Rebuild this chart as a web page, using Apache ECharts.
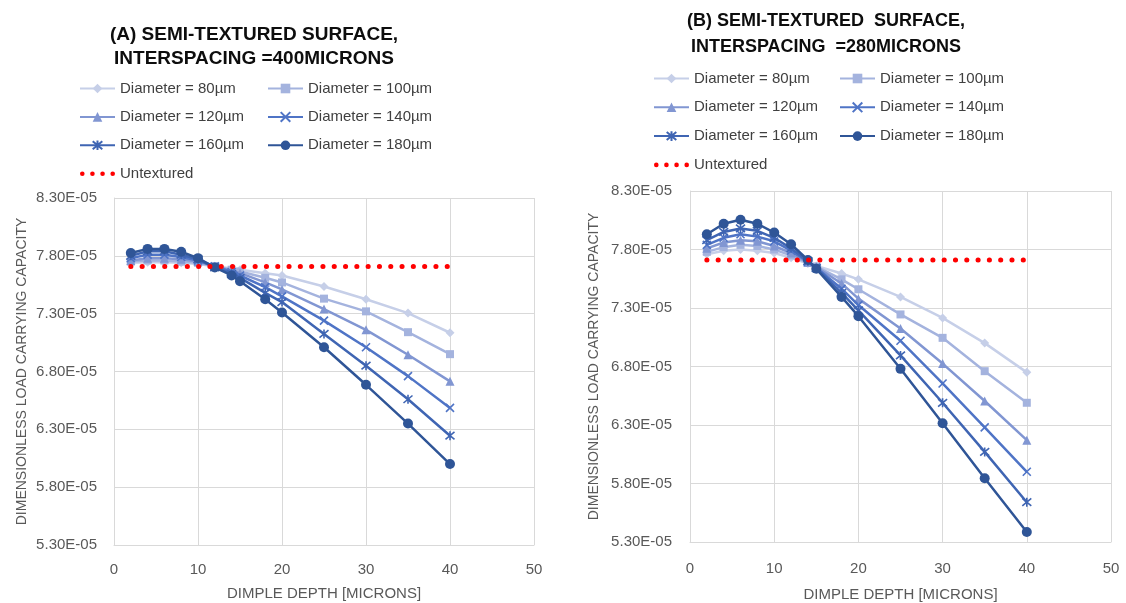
<!DOCTYPE html>
<html><head><meta charset="utf-8">
<script src="https://cdn.jsdelivr.net/npm/echarts@6/dist/echarts.min.js"></script>
<style>html,body{margin:0;padding:0;background:#fff}#c{width:1126px;height:603px}</style>
</head><body><div id="c"></div><script>
// ---- data ----
const depth = [2, 4, 6, 8, 10, 12, 14, 15, 18, 20, 25, 30, 35, 40];
const seriesNames = ['Diameter = 80µm', 'Diameter = 100µm', 'Diameter = 120µm', 'Diameter = 140µm', 'Diameter = 160µm', 'Diameter = 180µm'];
const untexturedName = 'Untextured';

// Panel A (interspacing 400 microns)
const a80  = [7.740e-5, 7.745e-5, 7.745e-5, 7.740e-5, 7.730e-5, 7.710e-5, 7.690e-5, 7.680e-5, 7.650e-5, 7.630e-5, 7.535e-5, 7.425e-5, 7.305e-5, 7.135e-5];
const a100 = [7.750e-5, 7.760e-5, 7.760e-5, 7.750e-5, 7.740e-5, 7.710e-5, 7.680e-5, 7.665e-5, 7.610e-5, 7.570e-5, 7.430e-5, 7.320e-5, 7.140e-5, 6.950e-5];
const a120 = [7.760e-5, 7.780e-5, 7.780e-5, 7.770e-5, 7.750e-5, 7.710e-5, 7.670e-5, 7.650e-5, 7.570e-5, 7.510e-5, 7.340e-5, 7.160e-5, 6.945e-5, 6.715e-5];
const a140 = [7.780e-5, 7.810e-5, 7.810e-5, 7.790e-5, 7.760e-5, 7.710e-5, 7.660e-5, 7.630e-5, 7.530e-5, 7.450e-5, 7.240e-5, 7.010e-5, 6.760e-5, 6.485e-5];
const a160 = [7.800e-5, 7.840e-5, 7.840e-5, 7.810e-5, 7.770e-5, 7.700e-5, 7.645e-5, 7.610e-5, 7.480e-5, 7.400e-5, 7.125e-5, 6.850e-5, 6.560e-5, 6.245e-5];
const a180 = [7.825e-5, 7.860e-5, 7.860e-5, 7.835e-5, 7.780e-5, 7.700e-5, 7.630e-5, 7.580e-5, 7.425e-5, 7.310e-5, 7.010e-5, 6.685e-5, 6.350e-5, 6.000e-5];
const aUntextured = [7.707e-5, 7.707e-5, 7.707e-5, 7.707e-5, 7.707e-5, 7.707e-5, 7.707e-5, 7.707e-5, 7.707e-5, 7.707e-5, 7.707e-5, 7.707e-5, 7.707e-5, 7.707e-5];

// Panel B (interspacing 280 microns)
const b80  = [7.760e-5, 7.790e-5, 7.800e-5, 7.790e-5, 7.770e-5, 7.730e-5, 7.680e-5, 7.660e-5, 7.595e-5, 7.545e-5, 7.395e-5, 7.215e-5, 7.000e-5, 6.750e-5];
const b100 = [7.780e-5, 7.820e-5, 7.840e-5, 7.830e-5, 7.800e-5, 7.750e-5, 7.685e-5, 7.655e-5, 7.545e-5, 7.460e-5, 7.245e-5, 7.045e-5, 6.760e-5, 6.490e-5];
const b120 = [7.810e-5, 7.860e-5, 7.880e-5, 7.870e-5, 7.830e-5, 7.770e-5, 7.690e-5, 7.650e-5, 7.510e-5, 7.380e-5, 7.125e-5, 6.825e-5, 6.505e-5, 6.170e-5];
const b140 = [7.840e-5, 7.900e-5, 7.930e-5, 7.910e-5, 7.870e-5, 7.790e-5, 7.695e-5, 7.645e-5, 7.465e-5, 7.325e-5, 7.020e-5, 6.655e-5, 6.280e-5, 5.900e-5];
const b160 = [7.880e-5, 7.950e-5, 7.980e-5, 7.960e-5, 7.900e-5, 7.810e-5, 7.700e-5, 7.640e-5, 7.430e-5, 7.280e-5, 6.895e-5, 6.490e-5, 6.070e-5, 5.640e-5];
const b180 = [7.930e-5, 8.020e-5, 8.055e-5, 8.020e-5, 7.945e-5, 7.845e-5, 7.710e-5, 7.635e-5, 7.395e-5, 7.230e-5, 6.780e-5, 6.315e-5, 5.845e-5, 5.385e-5];
const bUntextured = [7.710e-5, 7.710e-5, 7.710e-5, 7.710e-5, 7.710e-5, 7.710e-5, 7.710e-5, 7.710e-5, 7.710e-5, 7.710e-5, 7.710e-5, 7.710e-5, 7.710e-5, 7.710e-5];

const titleA = '(A) SEMI-TEXTURED SURFACE,\nINTERSPACING =400MICRONS';
const titleB = '(B) SEMI-TEXTURED  SURFACE,\nINTERSPACING  =280MICRONS';
const xTitle = 'DIMPLE DEPTH [MICRONS]';
const yTitle = 'DIMENSIONLESS LOAD CARRYING CAPACITY';

// ---- styles ----
const FONT = '"Liberation Sans", Arial, sans-serif';
const colors = ['#c6cfe8', '#a4b3de', '#8196d2', '#4f74c6', '#3f65b3', '#2f5597'];
const xPath = 'path://M0,0L10,10M10,0L0,10';
const starPath = 'path://M0,0L10,10M10,0L0,10M5,-1L5,11';
const symbols = ['diamond', 'rect', 'triangle', xPath, starPath, 'circle'];
const sizes = [9, 8, 9, 8, 9, 10];
const stroked = [false, false, false, true, true, false];
const dotsIcon = 'path://M0,2.5A2.5,2.5 0 1 1 5,2.5A2.5,2.5 0 1 1 0,2.5Z' +
  'M11,2.5A2.5,2.5 0 1 1 16,2.5A2.5,2.5 0 1 1 11,2.5Z' +
  'M22,2.5A2.5,2.5 0 1 1 27,2.5A2.5,2.5 0 1 1 22,2.5Z' +
  'M33,2.5A2.5,2.5 0 1 1 38,2.5A2.5,2.5 0 1 1 33,2.5Z';

function sci(v) {
  const s = Number(v).toExponential(2);
  const parts = s.split('e');
  const n = parseInt(parts[1], 10);
  return parts[0] + 'E' + (n < 0 ? '-' : '+') + String(Math.abs(n)).padStart(2, '0');
}
function pairs(ys) { return depth.map((x, i) => [x, ys[i]]); }

function makeSeries(dataList, untex, gi) {
  const out = dataList.map((ys, i) => ({
    name: seriesNames[i], type: 'line', xAxisIndex: gi, yAxisIndex: gi,
    data: pairs(ys), symbol: symbols[i], symbolSize: sizes[i], showSymbol: true,
    lineStyle: { color: colors[i], width: 2.5 },
    itemStyle: { color: colors[i], borderColor: colors[i], borderWidth: stroked[i] ? 1.6 : 0 },
    emphasis: { disabled: true }, z: 2 + i
  }));
  out.push({
    name: untexturedName, type: 'line', xAxisIndex: gi, yAxisIndex: gi,
    data: pairs(untex), symbol: 'none',
    lineStyle: { color: '#ff0000', width: 5, type: [0.1, 11.2], cap: 'round' },
    itemStyle: { color: '#ff0000' },
    emphasis: { disabled: true }, z: 10
  });
  return out;
}

const grids = [
  { left: 114, top: 198, width: 420, height: 347, containLabel: false, outerBoundsMode: 'none' },
  { left: 690, top: 191, width: 421, height: 351, containLabel: false, outerBoundsMode: 'none' }
];
const gridLine = { show: true, lineStyle: { color: '#d9d9d9', width: 1 } };

function xAxis(gi, margin, gap) {
  return {
    type: 'value', gridIndex: gi, min: 0, max: 50, interval: 10,
    axisLine: { show: true, lineStyle: { color: '#d9d9d9', width: 1 } },
    axisTick: { show: false }, splitLine: gridLine,
    axisLabel: { color: '#595959', fontFamily: FONT, fontSize: 15, margin: margin },
    name: xTitle, nameLocation: 'middle', nameGap: gap,
    nameTextStyle: { color: '#595959', fontFamily: FONT, fontSize: 15 }
  };
}
function yAxis(gi, margin, gap) {
  return {
    type: 'value', gridIndex: gi, min: 5.3e-5, max: 8.3e-5, interval: 0.5e-5,
    axisLine: { show: true, lineStyle: { color: '#d9d9d9', width: 1 } },
    axisTick: { show: false }, splitLine: gridLine,
    axisLabel: { color: '#595959', fontFamily: FONT, fontSize: 15, margin: margin, formatter: sci },
    name: yTitle, nameLocation: 'middle', nameGap: gap, nameRotate: 90,
    nameTextStyle: { color: '#595959', fontFamily: FONT, fontSize: 14 }
  };
}

const legendText = { color: '#404040', fontFamily: FONT, fontSize: 15 };
const untexLegendItem = { name: untexturedName, icon: dotsIcon, itemStyle: { color: '#ff0000' } };
function legend(names, left, top, gap) {
  return {
    data: names, left: left, top: top, orient: 'vertical', itemWidth: 35, itemHeight: 12,
    itemGap: gap, textStyle: legendText, selectedMode: false, padding: 0
  };
}

const option = {
  animation: false,
  backgroundColor: '#ffffff',
  title: [
    { text: titleA, left: 254, top: 23, textAlign: 'center', padding: 0,
      textStyle: { fontFamily: FONT, fontSize: 19, fontWeight: 'bold', color: '#0d0d0d', lineHeight: 24 } },
    { text: titleB, left: 826, top: 8, textAlign: 'center', padding: 0,
      textStyle: { fontFamily: FONT, fontSize: 18, fontWeight: 'bold', color: '#0d0d0d', lineHeight: 26 } }
  ],
  legend: [
    legend([seriesNames[0], seriesNames[2], seriesNames[4], untexLegendItem], 79, 81, 13.4),
    legend([seriesNames[1], seriesNames[3], seriesNames[5]], 267, 81, 13.4),
    legend([seriesNames[0], seriesNames[2], seriesNames[4], untexLegendItem], 653, 71, 13.8),
    legend([seriesNames[1], seriesNames[3], seriesNames[5]], 839, 71, 13.8)
  ],
  grid: grids,
  xAxis: [xAxis(0, 17, 41), xAxis(1, 19, 45)],
  yAxis: [yAxis(0, 17, 85), yAxis(1, 18, 89)],
  series: [].concat(
    makeSeries([a80, a100, a120, a140, a160, a180], aUntextured, 0),
    makeSeries([b80, b100, b120, b140, b160, b180], bUntextured, 1)
  )
};
const chart = echarts.init(document.getElementById('c'), null, { renderer: 'canvas' });
chart.setOption(option);
</script></body></html>
